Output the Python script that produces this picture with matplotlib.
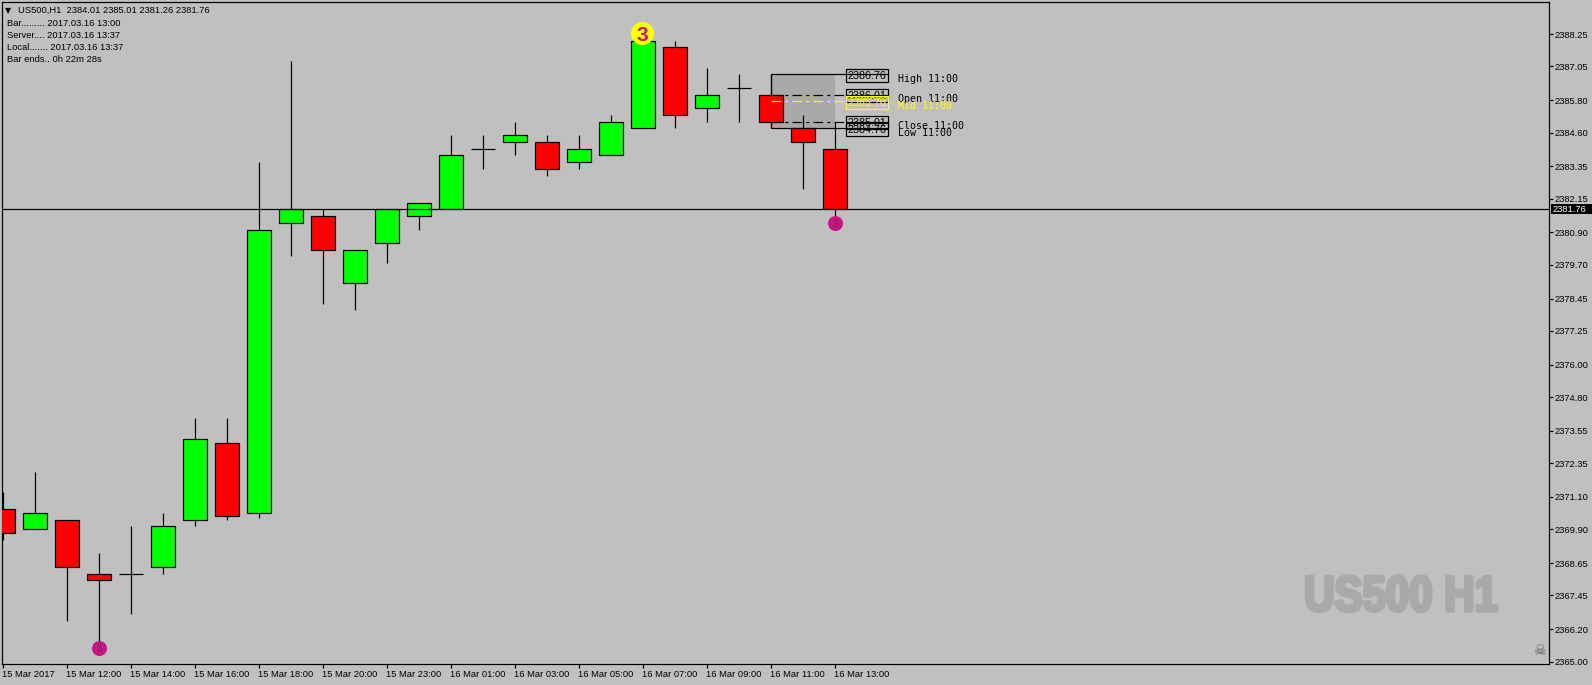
import matplotlib
matplotlib.use("Agg")
import matplotlib.pyplot as plt
from matplotlib.patches import Rectangle
import matplotlib.patheffects as pe
from matplotlib.transforms import Affine2D, ScaledTranslation

W, H = 1592, 685
BG = '#C0C0C0'
UI = ['Liberation Sans', 'DejaVu Sans']

bar_labels = ['15 Mar 2017', '15 Mar 12:00', '15 Mar 14:00', '15 Mar 16:00', '15 Mar 18:00',
              '15 Mar 20:00', '15 Mar 23:00', '16 Mar 01:00', '16 Mar 03:00', '16 Mar 05:00',
              '16 Mar 07:00', '16 Mar 09:00', '16 Mar 11:00', '16 Mar 13:00']
bar_ticks = [0, 2, 4, 6, 8, 10, 12, 14, 16, 18, 20, 22, 24, 26]
price_ticks = [2365.00, 2366.20, 2367.45, 2368.65, 2369.90, 2371.10, 2372.35, 2373.55, 2374.80, 2376.00,
               2377.25, 2378.45, 2379.70, 2380.90, 2382.15, 2383.35, 2384.60, 2385.80, 2387.05, 2388.25]

opens = [2370.64, 2369.90, 2370.26, 2368.26, 2368.26, 2368.51, 2370.26, 2373.11, 2370.51,
         2381.26, 2381.51, 2379.01, 2380.51, 2381.51, 2381.76, 2384.01, 2384.26, 2384.26,
         2383.51, 2383.76, 2384.76, 2387.76, 2385.51, 2386.26, 2386.01, 2384.76, 2384.01]
highs = [2371.28, 2372.01, 2370.26, 2369.01, 2370.01, 2370.51, 2374.01, 2374.01, 2383.51,
         2387.26, 2381.76, 2380.26, 2381.76, 2382.01, 2384.51, 2384.51, 2385.01, 2384.51,
         2384.51, 2385.26, 2388.01, 2388.01, 2387.01, 2386.76, 2386.76, 2385.26, 2385.01]
lows = [2369.51, 2369.90, 2366.51, 2365.51, 2366.76, 2368.26, 2370.01, 2370.26, 2370.31,
        2380.01, 2378.26, 2378.01, 2379.76, 2381.01, 2381.76, 2383.26, 2383.76, 2383.01,
        2383.26, 2383.76, 2384.76, 2384.76, 2385.01, 2385.01, 2384.76, 2382.51, 2381.26]
closes = [2369.76, 2370.51, 2368.51, 2368.01, 2368.26, 2370.01, 2373.26, 2370.38, 2381.01,
          2381.76, 2380.26, 2380.26, 2381.76, 2382.01, 2383.76, 2384.01, 2384.51, 2383.26,
          2384.01, 2385.01, 2388.01, 2385.26, 2386.01, 2386.26, 2385.01, 2384.26, 2381.76]

levels = ['High 11:00', 'Open 11:00', 'Close 11:00', 'Low 11:00', 'Mid 11:00']
level_values = [2386.76, 2386.01, 2385.01, 2384.76, 2385.76]
current = 2381.76
info_lines = ['Bar......... 2017.03.16 13:00', 'Server.... 2017.03.16 13:37',
              'Local....... 2017.03.16 13:37', 'Bar ends.. 0h 22m 28s']
header = 'US500,H1  2384.01 2385.01 2381.26 2381.76'

px = 0.72  # points per pixel at dpi=100
UI_SIZE = 9.4 * px
LW = 1.2 * px


class Squeeze(pe.AbstractPathEffect):
    """Draw text narrower (and slightly heavier) about its centre, like a condensed face."""

    def __init__(self, sx, cx, stroke, color):
        super().__init__()
        self.sx, self.cx, self.stroke, self.color = sx, cx, stroke, color

    def draw_path(self, renderer, gc, tpath, affine, rgbFace=None):
        t = affine + Affine2D().translate(-self.cx, 0).scale(self.sx, 1).translate(self.cx, 0)
        g = renderer.new_gc()
        g.copy_properties(gc)
        g.set_linewidth(self.stroke)
        g.set_foreground(self.color)
        renderer.draw_path(g, tpath, t, rgbFace)
        g.restore()


fig = plt.figure(figsize=(W / 100, H / 100), dpi=100, facecolor=BG)
ax = fig.add_axes([2 / W, 1 - 664 / H, (1549 - 2) / W, (664 - 2) / H], facecolor=BG)
ax.set_xlim(-0.04, 48.31)
ax.set_ylim(2364.91, 2389.44)

for s in ax.spines.values():
    s.set_linewidth(LW)
    s.set_color('black')

ax.yaxis.tick_right()
ax.set_yticks(price_ticks)
ax.set_yticklabels([f'{p:.2f}' for p in price_ticks], fontsize=UI_SIZE, family=UI)
ax.set_xticks(bar_ticks)
ax.set_xticklabels(bar_labels, fontsize=UI_SIZE, family=UI, ha='left')
ax.tick_params(axis='y', length=3, width=LW, pad=0.9, colors='black')
ax.tick_params(axis='x', length=3, width=LW, pad=1.0, colors='black')
shift = ScaledTranslation(-1 / 100, 0, fig.dpi_scale_trans)
for lab in ax.get_xticklabels():
    lab.set_transform(lab.get_transform() + shift)

# session box (behind candles)
hi, op, cl, lo, mid = level_values[0], level_values[1], level_values[2], level_values[3], level_values[4]
ax.add_patch(Rectangle((24, lo), 2, hi - lo, facecolor='#A9A9A9', edgecolor='none', zorder=1))
ax.vlines(24, lo, hi, color='black', lw=LW, zorder=2)
ax.hlines([hi, lo], 24, 27.64, color='black', lw=LW, zorder=2)
dd = (0, (8, 3.5, 2.5, 3.5))
ax.hlines([op, cl], 24, 26.33, color='black', lw=LW, linestyles=[dd], zorder=2)
ax.hlines([op, cl], 26.33, 27.64, color='black', lw=LW, zorder=2)

# candles
idx = list(range(len(opens)))
ax.vlines(idx, lows, highs, color='black', lw=LW, zorder=3)
for i, o, c in zip(idx, opens, closes):
    if o == c:
        ax.hlines(o, i - 0.37, i + 0.37, color='black', lw=LW, zorder=4)
    else:
        ax.bar(i, abs(c - o), bottom=min(o, c), width=0.74,
               color='#00FF00' if c > o else '#FF0000', edgecolor='black', linewidth=LW, zorder=4)

ax.axhline(current, color='black', lw=LW, zorder=5)
ax.hlines(mid, 24, 27.64, color='#FFFF00', lw=LW, linestyles=[dd], zorder=6)

# level boxes and labels
for name, v in zip(levels, level_values):
    col = '#FFFF00' if name.startswith('Mid') else 'black'
    z = 8 if name.startswith('Mid') else 7
    ax.add_patch(Rectangle((26.33, v - 0.27), 1.31, 0.46, facecolor='none', edgecolor=col, lw=LW, zorder=z))
    ax.text(26.985, v - 0.07, f'{v:.2f}', ha='center', va='center', color=col, fontsize=10.8 * px,
            family=UI, zorder=z)
    ax.text(27.95, v - 0.165, name, ha='left', va='center', color=col, fontsize=10 * px,
            family='DejaVu Sans Mono', zorder=z)

# signal badges
ax.scatter([19.97], [2388.28], s=275, color='#FFFF00', linewidths=0, zorder=9)
ax.text(19.97, 2388.28, '3', ha='center', va='center_baseline', color='#C71585', fontsize=21 * px,
        fontweight='bold', family=UI, zorder=10)
ax.scatter([3, 26], [lows[3], lows[26]], s=117, color='#C71585', linewidths=0, zorder=9)
for i in (3, 26):
    ax.text(i, lows[i], '3', ha='center', va='center_baseline', color='#7A2A3A', fontsize=10 * px,
            family=UI, zorder=10)

# current price tag on the axis
tag = Rectangle((48.37, current - 0.19), 1.28, 0.38, facecolor='black', edgecolor='none', clip_on=False, zorder=11)
ax.add_patch(tag)
ax.text(48.43, current, f'{current:.2f}', ha='left', va='center', color='white', fontsize=UI_SIZE,
        family=UI, clip_on=False, zorder=12)


# overlay texts placed in pixel coordinates
def ftext(x, y, s, **kw):
    return fig.text(x / W, 1 - y / H, s, **kw)


ftext(8.5, 10.5, '\u25BC', ha='center', va='center', fontsize=8 * px, color='black', family='DejaVu Sans')
ftext(18.5, 10.5, header, ha='left', va='center', fontsize=UI_SIZE, family=UI, color='black')
for yy, line in zip([23, 35.5, 47.5, 60], info_lines):
    ftext(7, yy, line, ha='left', va='center', fontsize=UI_SIZE, family=UI, color='black')

ftext(1401, 611, 'US500 H1', ha='center', va='baseline', color='#A9A9A9', fontsize=50 * px, fontweight='bold',
      family='Liberation Sans', path_effects=[Squeeze(0.84, 1401, 2.6, '#A9A9A9')])
ftext(1539, 651, '\u2620', ha='center', va='center', color='#606060', fontsize=14 * px, family='DejaVu Sans')

fig.savefig('out.png', dpi=100, facecolor=BG)
